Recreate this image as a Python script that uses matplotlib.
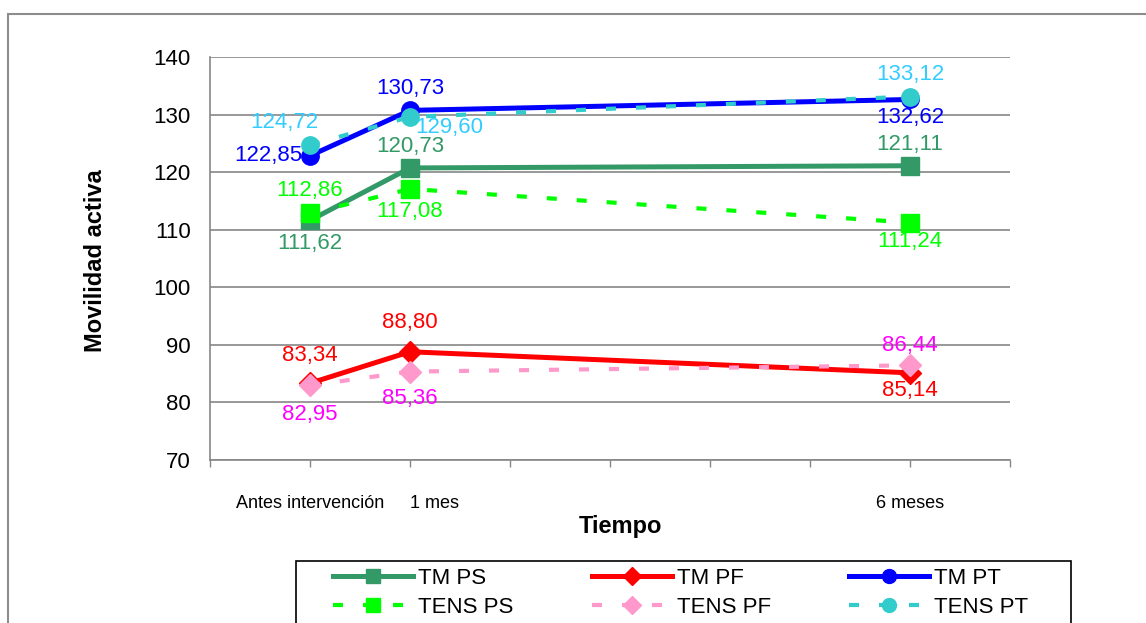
import matplotlib.pyplot as plt
from matplotlib.patches import Rectangle

plt.rcParams['font.family'] = ['Liberation Sans', 'DejaVu Sans']

# x positions in months, labels for the time points
meses = [0, 1, 6]
etiquetas_x = ["Antes intervención", "1 mes", "6 meses"]

series = ["TM PS", "TM PF", "TM PT", "TENS PS", "TENS PF", "TENS PT"]
tm_ps = [111.62, 120.73, 121.11]
tm_pf = [83.34, 88.80, 85.14]
tm_pt = [122.85, 130.73, 132.62]
tens_ps = [112.86, 117.08, 111.24]
tens_pf = [82.95, 85.36, 86.44]
tens_pt = [124.72, 129.60, 133.12]
valores = [tm_ps, tm_pf, tm_pt, tens_ps, tens_pf, tens_pt]

# style per series: line colour, label colour, marker, dashed, label offsets (px)
estilos = [
    ("#339966", "#339966", "s", False, [(0, -23), (0, 21), (0, 21)]),
    ("#FF0000", "#FF0000", "D", False, [(0, 28), (0, 29), (0, -18)]),
    ("#0000FF", "#0000FF", "o", False, [(-42, 0), (0, 22), (0, -18)]),
    ("#00FF00", "#00FF00", "s", True, [(0, 23), (0, -23), (0, -19)]),
    ("#FF99CC", "#FF00FF", "D", True, [(0, -29), (0, -27), (0, 20)]),
    ("#33CCCC", "#33CCFF", "o", True, [(-26, 22), (39, -11), (0, 22)]),
]

fig = plt.figure(figsize=(11.46, 6.23), dpi=100)
ax = fig.add_axes([210 / 1146, 1 - 460 / 623, 800 / 1146, 403 / 623])

handles = {}
for nombre, y, (col, lcol, mk, dash, offs) in zip(series, valores, estilos):
    ms = 12.5 if mk != "D" else 11
    if dash:
        h, = ax.plot(meses, y, color=col, lw=3, dashes=(2.4, 4.8),
                     marker=mk, ms=ms, mfc=col, mec=col, zorder=3)
    else:
        h, = ax.plot(meses, y, color=col, lw=3.6, marker=mk,
                     ms=ms, mfc=col, mec=col, zorder=2)
    handles[nombre] = h
    for xv, yv, (dx, dy) in zip(meses, y, offs):
        ax.annotate(f"{yv:.2f}".replace(".", ","), (xv, yv),
                    xytext=(dx * 0.72, dy * 0.72), textcoords="offset points",
                    ha="center", va="center", fontsize=16, color=lcol, zorder=5)

ax.set_xlim(-1, 7)
ax.set_ylim(70, 140)
ax.set_yticks(range(70, 141, 10))
ax.grid(axis="y", color="#868686", lw=1.2)
ax.set_axisbelow(True)

ax.set_xticks(range(-1, 8))
lbls = [""] * 9
for m, t in zip(meses, etiquetas_x):
    lbls[m + 1] = t
ax.set_xticklabels(lbls, fontsize=13)
for t in ax.get_xticklabels():
    if t.get_text() == "1 mes":
        t.set_horizontalalignment("left")
        t.set_x(1.02)
ax.tick_params(axis="x", length=5, width=1, color="#868686", pad=20)
ax.tick_params(axis="y", length=0, pad=14, labelsize=16)

for s in ["top", "right"]:
    ax.spines[s].set_visible(False)
for s in ["left", "bottom"]:
    ax.spines[s].set_color("#868686")
    ax.spines[s].set_linewidth(1.2)

fig.text(95 / 1146, 1 - 261 / 623, "Movilidad activa", rotation=90,
         ha="center", va="center", fontsize=17, fontweight="bold")
fig.text(620 / 1146, 1 - 527 / 623, "Tiempo", ha="center", va="center",
         fontsize=17, fontweight="bold")

# outer chart border
fig.patches.append(Rectangle((8 / 1146, -0.1), 1.2, 1.1 - 14 / 623,
                             transform=fig.transFigure, fill=False,
                             ec="#8c8c8c", lw=1.5))
# legend frame
fig.patches.append(Rectangle((296 / 1146, -0.05), 775 / 1146, 0.05 + 1 - 561 / 623,
                             transform=fig.transFigure, fill=False,
                             ec="black", lw=1.2))

orden = ["TM PS", "TENS PS", "TM PF", "TENS PF", "TM PT", "TENS PT"]
leg = fig.legend([handles[n] for n in orden], orden, ncol=3,
                 loc="upper left", bbox_to_anchor=(333 / 1146, 1 - 568 / 623),
                 fontsize=16, frameon=False, markerscale=0.8,
                 handlelength=3.6, handletextpad=0.22, borderaxespad=0,
                 labelspacing=0.35, borderpad=0, columnspacing=3.53)

fig.savefig("out.png", dpi=100)
